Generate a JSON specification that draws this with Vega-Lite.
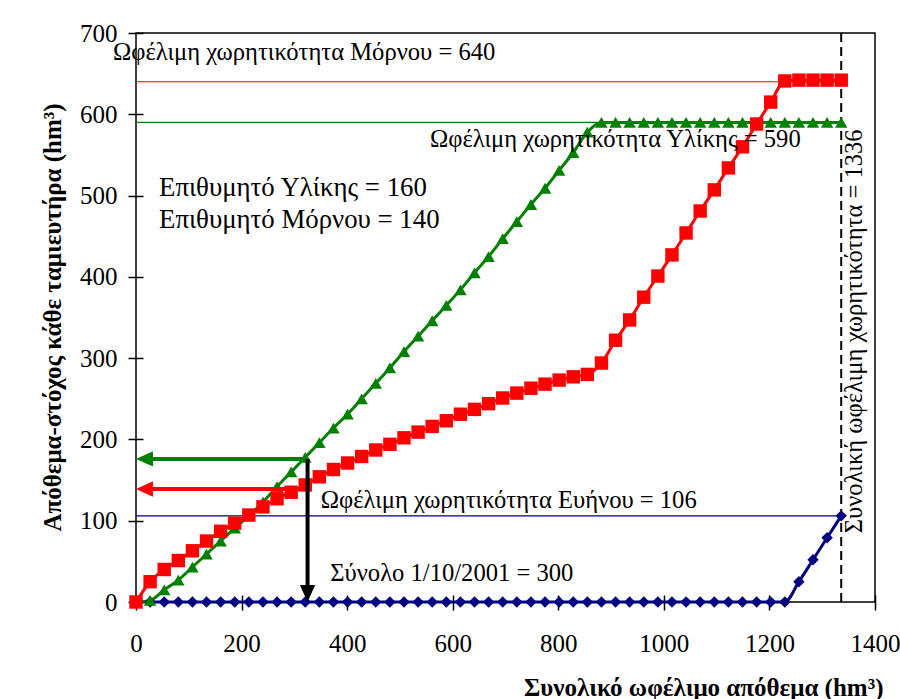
{
  "$schema": "https://vega.github.io/schema/vega-lite/v6.json",
  "width": 739,
  "height": 569,
  "autosize": {"type": "none"},
  "padding": {"left": 136, "top": 33, "right": 25, "bottom": 97},
  "background": "white",
  "config": {
    "view": {"stroke": "black", "strokeWidth": 1.5},
    "font": "Liberation Serif"
  },
  "datasets": {
    "curves": [
      {"x": 0, "mornos": 0, "yliki": 0, "evinos": 0},
      {"x": 26.72, "mornos": 25, "yliki": 2, "evinos": 0},
      {"x": 53.44, "mornos": 40, "yliki": 15, "evinos": 0},
      {"x": 80.16, "mornos": 51, "yliki": 27, "evinos": 0},
      {"x": 106.88, "mornos": 63, "yliki": 43, "evinos": 0},
      {"x": 133.6, "mornos": 75, "yliki": 59, "evinos": 0},
      {"x": 160.32, "mornos": 87, "yliki": 75, "evinos": 0},
      {"x": 187.04, "mornos": 97, "yliki": 91, "evinos": 0},
      {"x": 213.76, "mornos": 107, "yliki": 106, "evinos": 0},
      {"x": 240.48, "mornos": 117, "yliki": 123, "evinos": 0},
      {"x": 267.2, "mornos": 127, "yliki": 142, "evinos": 0},
      {"x": 293.92, "mornos": 135, "yliki": 160, "evinos": 0},
      {"x": 320.64, "mornos": 144, "yliki": 178, "evinos": 0},
      {"x": 347.36, "mornos": 154, "yliki": 196, "evinos": 0},
      {"x": 374.08, "mornos": 163, "yliki": 214, "evinos": 0},
      {"x": 400.8, "mornos": 171, "yliki": 231, "evinos": 0},
      {"x": 427.52, "mornos": 179, "yliki": 250, "evinos": 0},
      {"x": 454.24, "mornos": 187, "yliki": 269, "evinos": 0},
      {"x": 480.96, "mornos": 194, "yliki": 288, "evinos": 0},
      {"x": 507.68, "mornos": 202, "yliki": 308, "evinos": 0},
      {"x": 534.4, "mornos": 209, "yliki": 327, "evinos": 0},
      {"x": 561.12, "mornos": 216, "yliki": 346, "evinos": 0},
      {"x": 587.84, "mornos": 223, "yliki": 365, "evinos": 0},
      {"x": 614.56, "mornos": 231, "yliki": 384, "evinos": 0},
      {"x": 641.28, "mornos": 237, "yliki": 405, "evinos": 0},
      {"x": 668, "mornos": 244, "yliki": 425, "evinos": 0},
      {"x": 694.72, "mornos": 251, "yliki": 447, "evinos": 0},
      {"x": 721.44, "mornos": 257, "yliki": 468, "evinos": 0},
      {"x": 748.16, "mornos": 263, "yliki": 489, "evinos": 0},
      {"x": 774.88, "mornos": 268, "yliki": 509, "evinos": 0},
      {"x": 801.6, "mornos": 273, "yliki": 531, "evinos": 0},
      {"x": 828.32, "mornos": 277, "yliki": 553, "evinos": 0},
      {"x": 855.04, "mornos": 280, "yliki": 578, "evinos": 0},
      {"x": 881.76, "mornos": 294, "yliki": 590, "evinos": 0},
      {"x": 908.48, "mornos": 322, "yliki": 590, "evinos": 0},
      {"x": 935.2, "mornos": 347, "yliki": 590, "evinos": 0},
      {"x": 961.92, "mornos": 375, "yliki": 590, "evinos": 0},
      {"x": 988.64, "mornos": 401, "yliki": 590, "evinos": 0},
      {"x": 1015.36, "mornos": 427, "yliki": 590, "evinos": 0},
      {"x": 1042.08, "mornos": 454, "yliki": 590, "evinos": 0},
      {"x": 1068.8, "mornos": 481, "yliki": 590, "evinos": 0},
      {"x": 1095.52, "mornos": 507, "yliki": 590, "evinos": 0},
      {"x": 1122.24, "mornos": 534, "yliki": 590, "evinos": 0},
      {"x": 1148.96, "mornos": 560, "yliki": 590, "evinos": 0},
      {"x": 1175.68, "mornos": 588, "yliki": 590, "evinos": 0},
      {"x": 1202.4, "mornos": 615, "yliki": 590, "evinos": 0},
      {"x": 1229.12, "mornos": 641, "yliki": 590, "evinos": 0},
      {"x": 1255.84, "mornos": 642, "yliki": 590, "evinos": 25},
      {"x": 1282.56, "mornos": 642, "yliki": 590, "evinos": 52},
      {"x": 1309.28, "mornos": 642, "yliki": 590, "evinos": 79},
      {"x": 1336, "mornos": 642, "yliki": 590, "evinos": 106}
    ],
    "refs": [
      {"s": "mornos", "y": 640, "x0": 0, "x1": 1336},
      {"s": "yliki", "y": 590, "x0": 0, "x1": 1336},
      {"s": "evinos", "y": 106, "x0": 0, "x1": 1336}
    ],
    "arrows": [
      {"s": "yliki", "y": 176, "x0": 16, "x1": 324},
      {"s": "mornos", "y": 139, "x0": 16, "x1": 324}
    ],
    "notes": [
      {"t": "Ωφέλιμη χωρητικότητα Μόρνου = 640", "x": -43.6, "y": 675},
      {"t": "Ωφέλιμη χωρητικότητα Υλίκης = 590", "x": 557, "y": 568},
      {"t": "Ωφέλιμη χωρητικότητα Ευήνου = 106", "x": 350, "y": 124},
      {"t": "Σύνολο 1/10/2001 = 300", "x": 368, "y": 34}
    ],
    "targets": [
      {"t": "Επιθυμητό Υλίκης = 160", "x": 43.6, "y": 509},
      {"t": "Επιθυμητό Μόρνου = 140", "x": 43.6, "y": 470}
    ]
  },
  "layer": [
    {
      "data": {"name": "refs"},
      "mark": {"type": "rule", "strokeWidth": 1.2},
      "encoding": {
        "x": {"field": "x0", "type": "quantitative", "scale": {"domain": [0, 1400], "nice": false},
          "axis": {
            "values": [0, 200, 400, 600, 800, 1000, 1200, 1400], "format": "d",
            "grid": false, "domain": false, "offset": -7, "tickSize": 15, "tickWidth": 1.5, "tickColor": "black",
            "labelFont": "Liberation Serif", "labelFontSize": 25, "labelColor": "black", "labelPadding": 21,
            "labelBaseline": "top", "labelFlush": false,
            "title": "Συνολικό ωφέλιμο απόθεμα (hm³)",
            "titleFont": "Liberation Serif", "titleFontSize": 25, "titleFontWeight": "bold", "titleColor": "black",
            "titleX": 747, "titleY": 100, "titleAlign": "right", "titleBaseline": "alphabetic", "titleAnchor": null
          }},
        "x2": {"field": "x1"},
        "y": {"field": "y", "type": "quantitative", "scale": {"domain": [0, 700], "nice": false},
          "axis": {
            "values": [0, 100, 200, 300, 400, 500, 600, 700], "format": "d",
            "grid": false, "domain": false, "offset": -7, "tickSize": 15, "tickWidth": 1.5, "tickColor": "black",
            "labelFont": "Liberation Serif", "labelFontSize": 25, "labelColor": "black", "labelPadding": 11,
            "labelFlush": false,
            "title": "Απόθεμα-στόχος κάθε ταμιευτήρα (hm³)",
            "titleFont": "Liberation Serif", "titleFontSize": 25, "titleFontWeight": "bold", "titleColor": "black",
            "titleX": -91, "titleY": 284, "titleAlign": "center", "titleBaseline": "middle", "titleAngle": 270
          }},
        "color": {"field": "s", "type": "nominal", "scale": {"domain": ["evinos", "yliki", "mornos"], "range": ["#000080", "#008000", "#FF0000"]}, "legend": null}
      }
    },
    {
      "data": {"values": [{"x": 1336}]},
      "mark": {"type": "rule", "color": "black", "strokeWidth": 2, "strokeDash": [9, 5]},
      "encoding": {
        "x": {"field": "x", "type": "quantitative"}
      }
    },
    {
      "data": {"name": "curves"},
      "transform": [{"fold": ["evinos", "yliki", "mornos"], "as": ["s", "y"]}],
      "mark": {"type": "line", "strokeWidth": 3, "interpolate": "monotone"},
      "encoding": {
        "x": {"field": "x", "type": "quantitative"},
        "y": {"field": "y", "type": "quantitative"},
        "color": {"field": "s", "type": "nominal"}
      }
    },
    {
      "data": {"name": "curves"},
      "transform": [{"fold": ["evinos", "yliki", "mornos"], "as": ["s", "y"]}],
      "mark": {"type": "point", "filled": true, "opacity": 1},
      "encoding": {
        "x": {"field": "x", "type": "quantitative"},
        "y": {"field": "y", "type": "quantitative"},
        "color": {"field": "s", "type": "nominal"},
        "shape": {"field": "s", "type": "nominal", "scale": {"domain": ["evinos", "yliki", "mornos"], "range": ["diamond", "triangle-up", "square"]}, "legend": null},
        "size": {"field": "s", "type": "ordinal", "scale": {"domain": ["evinos", "yliki", "mornos"], "range": [130, 180, 95]}, "legend": null}
      }
    },
    {
      "data": {"name": "arrows"},
      "mark": {"type": "rule", "strokeWidth": 4},
      "encoding": {
        "x": {"field": "x0", "type": "quantitative"},
        "x2": {"field": "x1"},
        "y": {"field": "y", "type": "quantitative"},
        "color": {"field": "s", "type": "nominal"}
      }
    },
    {
      "data": {"name": "arrows"},
      "mark": {"type": "point", "filled": true, "opacity": 1, "shape": "M-1,0L1,-0.9L1,0.9Z", "size": 289},
      "encoding": {
        "x": {"field": "x0", "type": "quantitative"},
        "y": {"field": "y", "type": "quantitative"},
        "color": {"field": "s", "type": "nominal"}
      }
    },
    {
      "data": {"values": [{"x": 325, "y0": 176, "y1": 10}]},
      "mark": {"type": "rule", "strokeWidth": 4, "color": "black"},
      "encoding": {
        "x": {"field": "x", "type": "quantitative"},
        "y": {"field": "y0", "type": "quantitative"},
        "y2": {"field": "y1"}
      }
    },
    {
      "data": {"values": [{"x": 325, "y": 10.5}]},
      "mark": {"type": "point", "filled": true, "opacity": 1, "color": "black", "shape": "M0,1L-0.9,-1L0.9,-1Z", "size": 289},
      "encoding": {
        "x": {"field": "x", "type": "quantitative"},
        "y": {"field": "y", "type": "quantitative"}
      }
    },
    {
      "data": {"name": "notes"},
      "mark": {"type": "text", "align": "left", "baseline": "middle", "font": "Liberation Serif", "fontSize": 24.6, "color": "black"},
      "encoding": {
        "x": {"field": "x", "type": "quantitative"},
        "y": {"field": "y", "type": "quantitative"},
        "text": {"field": "t"}
      }
    },
    {
      "data": {"name": "targets"},
      "mark": {"type": "text", "align": "left", "baseline": "middle", "font": "Liberation Serif", "fontSize": 26.8, "color": "black"},
      "encoding": {
        "x": {"field": "x", "type": "quantitative"},
        "y": {"field": "y", "type": "quantitative"},
        "text": {"field": "t"}
      }
    },
    {
      "data": {"values": [{"t": "Συνολική ωφέλιμη χωρητικότητα = 1336", "x": 1363, "y": 333}]},
      "mark": {"type": "text", "align": "center", "baseline": "middle", "angle": 270, "font": "Liberation Serif", "fontSize": 24.6, "color": "black"},
      "encoding": {
        "x": {"field": "x", "type": "quantitative"},
        "y": {"field": "y", "type": "quantitative"},
        "text": {"field": "t"}
      }
    }
  ]
}
